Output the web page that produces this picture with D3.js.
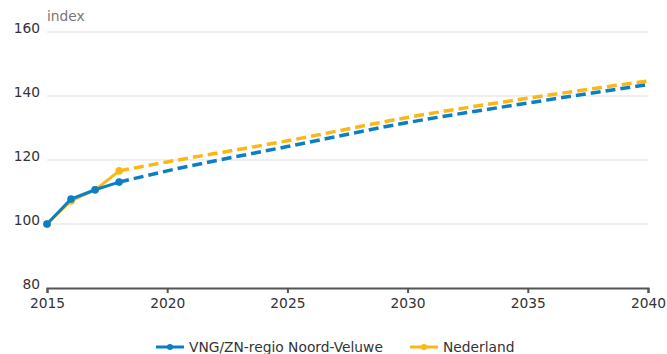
<!DOCTYPE html>
<html><head><meta charset="utf-8">
<script src="https://cdn.jsdelivr.net/npm/d3@7"></script>
<style>
body{margin:0;background:#fff;}
text{font-family:"DejaVu Sans",Verdana,sans-serif;}
</style></head>
<body><svg id="c" width="667" height="354"></svg>
<script>
const seriesNames = ["VNG/ZN-regio Noord-Veluwe", "Nederland"];
const colors = ["#0a7fc6", "#fdb714"];
const obsYears = [2015, 2016, 2017, 2018];
const obsBlue = [100, 107.8, 110.7, 113.1];
const obsOrange = [100, 107.2, 110.6, 116.6];
const fcYears = [2018, 2020, 2025, 2030, 2035, 2040];
const fcBlue = [113.1, 116.6, 124.2, 131.7, 137.8, 143.6];
const fcOrange = [116.6, 119.4, 126.0, 133.3, 139.3, 144.7];
const xTicks = [2015, 2020, 2025, 2030, 2035, 2040];
const yTicks = [80, 100, 120, 140, 160];

const svg = d3.select("#c");
const x = d3.scaleLinear().domain([2015, 2040]).range([47, 648]);
const y = d3.scaleLinear().domain([80, 160]).range([288, 32]);
const fs = 13.8;

// grid
svg.append("g").selectAll("line").data(yTicks.filter(d => d > 80)).join("line")
  .attr("x1", 47).attr("x2", 648)
  .attr("y1", d => y(d)).attr("y2", d => y(d))
  .attr("stroke", "#e0e0e0").attr("stroke-width", 1.2);

// y labels
svg.append("g").selectAll("text").data(yTicks).join("text")
  .attr("x", 40).attr("y", d => y(d) + 1)
  .attr("text-anchor", "end").attr("font-size", fs).attr("fill", "#333")
  .text(d => d);

svg.append("text").attr("x", 47).attr("y", 21).attr("font-size", fs)
  .attr("fill", "#777").text("index");

// x axis
const xa = svg.append("g").attr("transform", "translate(0,288)")
  .call(d3.axisBottom(x).tickValues(xTicks).tickFormat(d3.format("d")).tickSize(5).tickPadding(5));
xa.select(".domain").attr("stroke", "#555").attr("stroke-width", 2);
xa.selectAll(".tick line").attr("stroke", "#555").attr("stroke-width", 2);
xa.selectAll(".tick text").attr("font-size", fs).attr("fill", "#333")
  .attr("font-family", "DejaVu Sans, Verdana, sans-serif");

const line = d3.line().x(d => x(d[0])).y(d => y(d[1]));
const lineC = d3.line().x(d => x(d[0])).y(d => y(d[1])).curve(d3.curveMonotoneX);

const sets = [
  {obs: obsOrange, fc: fcOrange, c: colors[1]},
  {obs: obsBlue, fc: fcBlue, c: colors[0]}
];
sets.forEach(s => {
  svg.append("path").datum(fcYears.map((yr, i) => [yr, s.fc[i]]))
    .attr("d", lineC).attr("fill", "none").attr("stroke", s.c)
    .attr("stroke-width", 3.5).attr("stroke-dasharray", "10,5");
});
sets.forEach(s => {
  const pts = obsYears.map((yr, i) => [yr, s.obs[i]]);
  svg.append("path").datum(pts).attr("d", line).attr("fill", "none")
    .attr("stroke", s.c).attr("stroke-width", 3);
  svg.append("g").selectAll("circle").data(pts).join("circle")
    .attr("cx", d => x(d[0])).attr("cy", d => y(d[1])).attr("r", 3.8).attr("fill", s.c);
});

// legend
const leg = [{name: seriesNames[0], c: colors[0], x: 156}, {name: seriesNames[1], c: colors[1], x: 410}];
leg.forEach(l => {
  const g = svg.append("g");
  g.append("line").attr("x1", l.x).attr("x2", l.x + 28).attr("y1", 347).attr("y2", 347)
    .attr("stroke", l.c).attr("stroke-width", 3);
  g.append("circle").attr("cx", l.x + 14).attr("cy", 347).attr("r", 3).attr("fill", l.c);
  g.append("text").attr("x", l.x + 33).attr("y", 352).attr("font-size", fs).attr("fill", "#333").text(l.name);
});
</script></body></html>
